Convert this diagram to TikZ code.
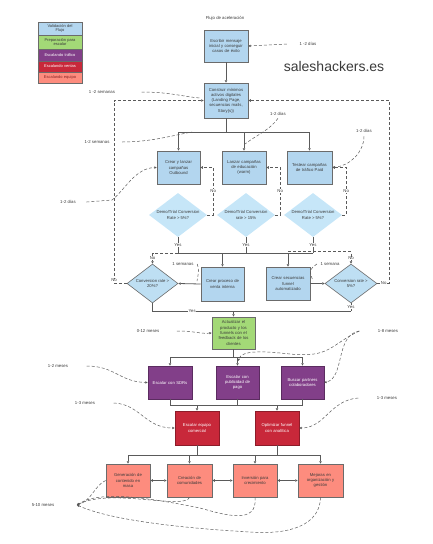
\documentclass[tikz,border=0pt]{standalone}
\usepackage{fontspec}
\setmainfont{Liberation Sans}
\usetikzlibrary{arrows.meta,shapes.geometric,calc}
\definecolor{cblue}{HTML}{B3D6EF}
\definecolor{cdia}{HTML}{C6E6F8}
\definecolor{cdiab}{HTML}{BEDFF3}
\definecolor{cgreen}{HTML}{A3D977}
\definecolor{cpurple}{HTML}{823F89}
\definecolor{cred}{HTML}{C8283A}
\definecolor{csalmon}{HTML}{FD8C7E}
\definecolor{bcol}{HTML}{6B6B6B}
\definecolor{lcol}{HTML}{5A5A5A}
\definecolor{ctxt}{HTML}{3A3A3A}
\begin{document}
\begin{tikzpicture}[x=1pt,y=-1pt,
  tiny/.style={font=\fontsize{4.2}{5.3}\selectfont},
  bx/.style={draw=bcol, line width=0.7pt, inner sep=1pt, align=center, tiny,
    minimum width=44pt, minimum height=33pt, text width=40pt},
  blue/.style={bx, fill=cblue, text=ctxt},
  green/.style={bx, fill=cgreen, text=ctxt},
  purple/.style={bx, fill=cpurple, text=white, draw=cpurple!70!black},
  red/.style={bx, fill=cred, text=white, draw=cred!70!black},
  salmon/.style={bx, fill=csalmon, text=ctxt, draw=bcol},
  lg/.style={draw=bcol, line width=0.6pt, minimum width=44pt, text width=42pt,
    align=center, inner sep=0.5pt, font=\fontsize{4}{4.8}\selectfont},
  dm/.style={shape=diamond, inner sep=0pt, minimum width=58pt, minimum height=44pt, fill=cdia},
  dmb/.style={shape=diamond, inner sep=0pt, minimum width=51pt, minimum height=39pt,
    fill=cdiab, draw=bcol, line width=0.6pt},
  lb/.style={font=\fontsize{4.3}{5}\selectfont, text=ctxt, inner sep=0.5pt},
  yes/.style={lb, fill=white, inner sep=0.3pt},
  ln/.style={draw=lcol, line width=0.8pt},
  arr/.style={ln, -{Triangle[length=2.4pt,width=2.4pt]}},
  darr/.style={ln, {Triangle[length=2.4pt,width=2.4pt]}-{Triangle[length=2.4pt,width=2.4pt]}},
  dsh/.style={draw=lcol, line width=0.5pt, dash pattern=on 3pt off 2pt},
  dtip/.style={-{Triangle[length=2.2pt,width=2.2pt]}}
]
\useasboundingbox (0,0) rectangle (432,544);

% legend
\node[lg, fill=cblue, text=ctxt, minimum height=13pt] (lg1) at (60,28.5) {Validación del\\Flujo};
\node[lg, fill=cgreen, text=ctxt, minimum height=14pt] (lg2) at (60,42) {Preparación para\\escalar};
\node[lg, fill=cpurple, text=white, minimum height=12pt] (lg3) at (60,55) {Escalando tráfico};
\node[lg, fill=cred, text=white, minimum height=11pt] (lg4) at (60,66.5) {Escalando ventas};
\node[lg, fill=csalmon, text=ctxt!60!red, minimum height=11pt] (lg5) at (60,77.5) {Escalando equipo};

\node[lb] (title) at (225,18) {Flujo de aceleración};
\node[font=\fontsize{14}{16}\selectfont, text=ctxt] (brand) at (334,66) {saleshackers.es};

% boxes
\node[blue, minimum height=32pt] (b1) at (226,46) {Escribir mensaje\\inicial y conseguir\\casos de éxito};
\node[blue, minimum height=35pt] (b2) at (226,100.5) {Construir mínimos\\activos digitales\\(Landing Page,\\secuencias mails,\\Story(s))};
\node[blue, minimum width=43pt] (b3) at (178.5,167.5) {Crear y lanzar\\campañas\\Outbound};
\node[blue] (b4) at (244,167.5) {Lanzar campañas\\de educación\\(warm)};
\node[blue, minimum width=45pt] (b5) at (309.5,167.5) {Testear campañas\\de tráfico Paid};

\node[dm] (d1) at (178,215) {};
\node[tiny, align=center, text=ctxt] (d1t) at (d1) {Demo/Trial Conversion\\Rate > 5\%?};
\node[dm] (d2) at (246,215) {};
\node[tiny, align=center, text=ctxt] (d2t) at (d2) {Demo/Trial Conversion\\rate > 15\%};
\node[dm] (d3) at (313,215) {};
\node[tiny, align=center, text=ctxt] (d3t) at (d3) {Demo/Trial Conversion\\Rate > 5\%?};

\node[blue, minimum width=43pt, minimum height=34pt] (b6) at (222.5,284) {Crear proceso de\\venta interna};
\node[blue] (b7) at (288,283.5) {Crear secuencias\\funnel\\automatizado};
\node[dmb] (d4) at (152.5,283.5) {};
\node[tiny, align=center, text=ctxt] (d4t) at (d4) {Conversion rate >\\20\%?};
\node[dmb, minimum width=52pt] (d5) at (351,283.5) {};
\node[tiny, align=center, text=ctxt] (d5t) at (d5) {Conversion rate >\\5\%?};

\node[green, minimum width=43pt, minimum height=32pt] (b8) at (233.5,333) {Actualizar el\\producto y los\\funnels con el\\feedback de los\\clientes};

\node[purple] (p1) at (170,382.5) {Escalar con SDRs};
\node[purple, minimum width=43pt] (p2) at (237.5,382.5) {Escalar con\\publicidad de\\pago};
\node[purple, minimum width=43pt] (p3) at (302.5,382.5) {Buscar partners\\colaboradores};

\node[red, minimum height=34pt] (r1) at (197,428) {Escalar equipo\\comercial};
\node[red, minimum height=34pt] (r2) at (277,428) {Optimizar funnel\\con analítica};

\node[salmon] (s1) at (128,480.5) {Generación de\\contenido en\\masa};
\node[salmon, minimum width=45pt] (s2) at (189.5,480.5) {Creación de\\comunidades};
\node[salmon] (s3) at (255,480.5) {Inversión para\\crecimiento};
\node[salmon, minimum width=45pt] (s4) at (320.5,480.5) {Mejoras en\\organización y\\gestión};

% level coordinates
\coordinate (yA) at (0,132);
\coordinate (yB) at (0,253);
\coordinate (yC) at (0,311);
\coordinate (yD) at (0,357);
\coordinate (yE) at (0,405);
\coordinate (yF) at (0,455);

% main flow
\draw[arr] (b1.south) -- (b2.north);
\draw[ln] (b2.south) -- (b2.south |- yA);
\draw[ln] (b3.north |- yA) -- (b5.north |- yA);
\draw[arr] (b3.north |- yA) -- (b3.north);
\draw[arr] (b4.north |- yA) -- (b4.north);
\draw[arr] (b5.north |- yA) -- (b5.north);

\draw[dsh,arr,line width=0.5pt,dash pattern=on 3pt off 2pt] (d1.east) -- ++(6,0) |- (b3.east) node[pos=0.25,yes]{No};
\draw[dsh,arr,line width=0.5pt,dash pattern=on 3pt off 2pt] (d2.east) -- ++(5,0) |- (b4.east) node[pos=0.25,yes]{No};
\draw[dsh,arr,line width=0.5pt,dash pattern=on 3pt off 2pt] (d3.east) -- ++(4,0) |- (b5.east) node[pos=0.25,yes]{No};

\draw[ln] (d1.south |- yB) -- (d3.south |- yB);
\draw[ln] (d1.south) -- (d1.south |- yB) node[midway,yes]{Yes};
\draw[ln] (d2.south) -- (d2.south |- yB) node[midway,yes]{Yes};
\draw[ln] (d3.south) -- (d3.south |- yB) node[midway,yes]{Yes};
\draw[arr] (b6.north |- yB) -- (b6.north);
\draw[arr] (b7.north |- yB) -- (b7.north);
\draw[dsh,arr,line width=0.5pt,dash pattern=on 3pt off 2pt] (d1.south |- yB) -| (d4.north) node[pos=0.75,yes]{No};
\draw[dsh,arr,line width=0.5pt,dash pattern=on 3pt off 2pt] ([yshift=1.5pt]b7.north |- yB) -| (d5.north) node[pos=0.78,yes]{No};

\draw[arr] (b6.west) -- (d4.east);
\draw[arr] (b7.east) -- (d5.west);

\draw[dsh,arr,line width=0.5pt,dash pattern=on 3pt off 2pt] (d4.west) -- (114,283.5) node[pos=1,yes,yshift=3pt]{No} |- (b2.west);
\draw[dsh,arr,line width=0.5pt,dash pattern=on 3pt off 2pt] (d5.east) -- (389,283.5) node[pos=0.55,yes]{No} |- (b2.east);

\draw[ln] (d4.south) |- node[pos=0.6,yes]{Yes} (d5.south |- yC);
\draw[ln] (d5.south) -- (d5.south |- yC) node[midway,yes]{Yes};
\draw[arr] (b8.north |- yC) -- (b8.north);

\draw[ln] (b8.south) -- (b8.south |- yD);
\draw[ln] (p1.north |- yD) -- (p3.north |- yD);
\draw[arr] (p1.north |- yD) -- (p1.north);
\draw[arr] (p2.north |- yD) -- (p2.north);
\draw[arr] (p3.north |- yD) -- (p3.north);

\draw[ln] (p1.south) -- (p1.south |- yE) -- (p3.south |- yE) -- (p3.south);
\draw[ln] (p2.south) -- (p2.south |- yE);
\draw[arr] (r1.north |- yE) -- (r1.north);
\draw[arr] (r2.north |- yE) -- (r2.north);

\draw[ln] (r1.south) -- (r1.south |- yF);
\draw[ln] (r2.south) -- (r2.south |- yF);
\draw[ln] (s1.north |- yF) -- (s4.north |- yF);
\draw[arr] (s1.north |- yF) -- (s1.north);
\draw[arr] (s2.north |- yF) -- (s2.north);
\draw[arr] (s3.north |- yF) -- (s3.north);
\draw[arr] (s4.north |- yF) -- (s4.north);

\draw[darr] (s1.east) -- (s2.west);
\draw[darr] (s2.east) -- (s3.west);
\draw[darr] (s3.east) -- (s4.west);

% duration annotations
\node[lb] (l1) at (308,44) {1 -2 días};
\draw[dsh,dtip] ([xshift=-12pt]l1.west) -- (b1.east);
\node[lb] (l2) at (102,92) {1 -2 semanas};
\draw[dsh] ([xshift=26pt]l2.east) .. controls (170,92) and (185,97) .. (200,98);
\node[lb] (l3) at (278,114) {1-2 días};
\draw[dsh] ([yshift=-2pt]l3.south) .. controls (270,130) and (255,136) .. (245,144);
\node[lb] (l4) at (364,131) {1-2 días};
\draw[dsh,dtip] ([yshift=-3pt]l4.south) .. controls (364,152) and (350,166) .. (b5.east);
\node[lb] (l5) at (97,142) {1-2 semanas};
\draw[dsh] ([xshift=12pt]l5.east) .. controls (150,142) and (170,136) .. (192,132);
\node[lb] (l6) at (68,202) {1-2 días};
\draw[dsh,dtip] ([xshift=10pt]l6.east) -- (112,200) .. controls (125,190) and (135,168) .. (b3.west);
\node[lb] (l7) at (183,264) {1 semanas};
\draw[dsh] ([xshift=3pt]l7.east) .. controls (199,270) .. (197,281);
\node[lb] (l8) at (330,264) {1 semana};
\draw[dsh] ([xshift=-3pt]l8.west) .. controls (309,270) .. (313,281);
\node[lb] (l9) at (148,331) {0-12 meses};
\draw[dsh,dtip] ([xshift=17pt]l9.east) .. controls (195,331) and (200,334) .. (b8.west);
\node[lb] (l10) at (388,331) {1-8 meses};
\coordinate (c10) at ([xshift=-18pt]l10.west);
\draw[dsh,dtip] (c10) .. controls (335,335) and (345,378) .. (p3.east);
\draw[dsh,dtip] (c10) .. controls (330,345) and (330,358) .. (290,354) .. controls (262,351) and (242,350) .. (238,361);
\node[lb] (l11) at (58,366) {1-2 meses};
\draw[dsh,dtip] ([xshift=18pt]l11.east) .. controls (115,366) and (120,382) .. (p1.west);
\node[lb] (l12) at (85,403) {1-3 meses};
\draw[dsh,dtip] ([xshift=18pt]l12.east) .. controls (140,404) and (145,428) .. (r1.west);
\node[lb] (l13) at (387,398) {1-3 meses};
\draw[dsh,dtip] ([xshift=-18pt]l13.west) .. controls (330,400) and (325,428) .. (r2.east);
\node[lb] (l14) at (43,505) {5-10 meses};
\coordinate (c14) at ([xshift=22pt]l14.east);
\draw[dsh,dtip] (s1.west) .. controls (95,485) and (92,500) .. (c14);
\draw[dsh,dtip] (s2.south) .. controls (185,510) and (110,488) .. (c14);
\draw[dsh,dtip] (s3.south) .. controls (258,525) and (225,515) .. (200,508) .. controls (150,498) and (100,490) .. (c14);
\draw[dsh,dtip] (s4.south) .. controls (320,525) and (290,535) .. (250,532) .. controls (180,528) and (110,520) .. (c14);
\end{tikzpicture}
\end{document}
